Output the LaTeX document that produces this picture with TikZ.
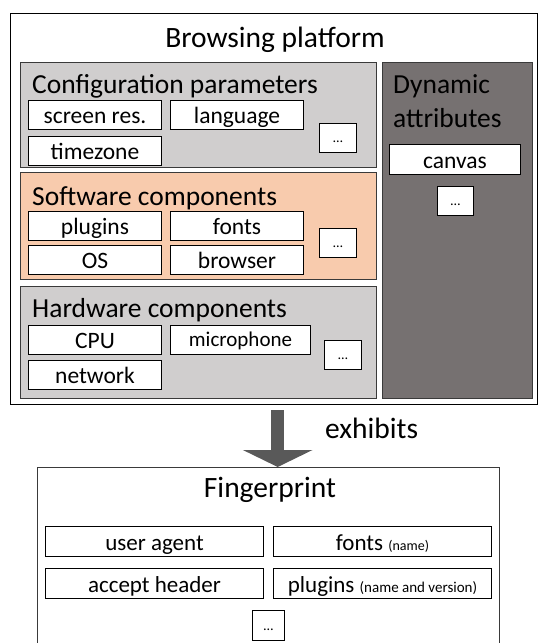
\documentclass[tikz,border=0pt]{standalone}
\usepackage{fontspec}
\setmainfont{Carlito}
\usepackage{tikz}
\usetikzlibrary{positioning,arrows.meta}
\definecolor{bpGrayL}{HTML}{D0CECE}
\definecolor{bpOrangeL}{HTML}{F8CBAD}
\definecolor{bpGrayD}{HTML}{767171}
\definecolor{bpArrow}{HTML}{595959}
\definecolor{bpLine}{HTML}{3A3A3A}
\newcommand\bpfont[1]{\fontsize{#1}{#1}\selectfont}
\tikzset{
  bp-frame/.style={
    draw=black, line width=1.4pt, anchor=north west, inner sep=0pt
  },
  bp-group/.style={draw=bpLine, line width=1.2pt, anchor=north west,
    inner sep=0pt, minimum width=356pt},
  bp-head/.style={anchor=base west, inner sep=0pt, font=\bpfont{27.5}},
  bp-attr/.style={draw=black, fill=white, line width=1pt, inner sep=0pt,
    minimum width=133pt, minimum height=29pt, text height=17.5pt,
    text depth=0pt, font=\bpfont{23.5}},
  bp-more/.style={bp-attr, minimum width=37pt, text height=9pt,
    font=\bpfont{14}},
  bp-flow/.style={-{Triangle[width=69pt,length=17pt]}, draw=bpArrow,
    line width=13pt, shorten <=5pt},
  bp-big/.style={inner sep=0pt, font=\bpfont{29.5}}
}
\begin{document}
\begin{tikzpicture}[x=1pt, y=-1pt]
\useasboundingbox (0,0) rectangle (539,643);
\clip (0,0) rectangle (539,643);

% browsing platform
\node[bp-frame, minimum width=527pt, minimum height=391pt] (platform) at (10,13) {};
\node[bp-big, anchor=base] (platformTitle) at (275,47) {Browsing platform};

% configuration parameters
\node[bp-group, fill=bpGrayL, minimum height=105pt] (config) at (20,62) {};
\node[bp-head] (configTitle) at (32,93.5) {Configuration parameters};
\node[bp-attr, anchor=north west] (screen) at (28,100) {screen res.};
\node[bp-attr, right=8pt of screen] (language) {language};
\node[bp-attr, below=6pt of screen] (timezone) {timezone};
\node[bp-more, anchor=north west] (configMore) at (319,123) {…};

% software components
\node[bp-group, fill=bpOrangeL, minimum height=107pt] (software) at (20,172) {};
\node[bp-head] (softwareTitle) at (32,205) {Software components};
\node[bp-attr, anchor=north west] (plugins) at (28,211) {plugins};
\node[bp-attr, right=8pt of plugins] (fonts) {fonts};
\node[bp-attr, below=4pt of plugins] (os) {OS};
\node[bp-attr, right=8pt of os] (browser) {browser};
\node[bp-more, anchor=north west] (softwareMore) at (319,228) {…};

% hardware components
\node[bp-group, fill=bpGrayL, minimum height=112pt] (hardware) at (20,286) {};
\node[bp-head] (hardwareTitle) at (32,317) {Hardware components};
\node[bp-attr, anchor=north west] (cpu) at (28,325) {CPU};
\node[bp-attr, right=8pt of cpu, minimum width=140pt, font=\bpfont{21},
  text height=13pt] (microphone) {microphone};
\node[bp-attr, below=5pt of cpu] (network) {network};
\node[bp-more, anchor=north west] (hardwareMore) at (324,340) {…};

% dynamic attributes
\node[bp-group, fill=bpGrayD, minimum width=150pt, minimum height=336pt] (dynamic) at (382,62) {};
\node[bp-head] (dynamicTitle) at (393,93.5) {Dynamic};
\node[bp-head] (dynamicTitle2) at (393,127) {attributes};
\node[bp-attr, anchor=north west, minimum width=131pt, minimum height=30pt] (canvas) at (389,144) {canvas};
\node[bp-more, anchor=north west, minimum width=36pt] (dynamicMore) at (437,186) {…};

% fingerprint
\node[bp-frame, draw=bpLine, line width=1.2pt, minimum width=462pt, minimum height=190pt] (finger) at (37,467) {};
\node[bp-big, anchor=base] (fingerTitle) at (270,497) {Fingerprint};
\node[bp-attr, anchor=north west, minimum width=218pt, minimum height=30pt, font=\bpfont{23}] (agent) at (45,526) {user agent};
\node[bp-attr, right=9pt of agent, minimum width=218pt, minimum height=30pt, font=\bpfont{23}] (fpFonts) {fonts {\bpfont{14}(name)}};
\node[bp-attr, below=11pt of agent, minimum width=218pt, minimum height=30pt, font=\bpfont{23}] (accept) {accept header};
\node[bp-attr, right=9pt of accept, minimum width=218pt, minimum height=30pt, font=\bpfont{23}] (fpPlugins) {plugins {\bpfont{15}(name and version)}};
\node[bp-more, anchor=north west, minimum width=32pt, minimum height=30pt] (fingerMore) at (252,610) {…};

\draw[bp-flow] ([xshift=3.5pt]platform.south) -- ([xshift=3.5pt]platform.south |- finger.north);
\node[bp-big, anchor=base west] (exhibits) at (325,438) {exhibits};
\end{tikzpicture}
\end{document}
